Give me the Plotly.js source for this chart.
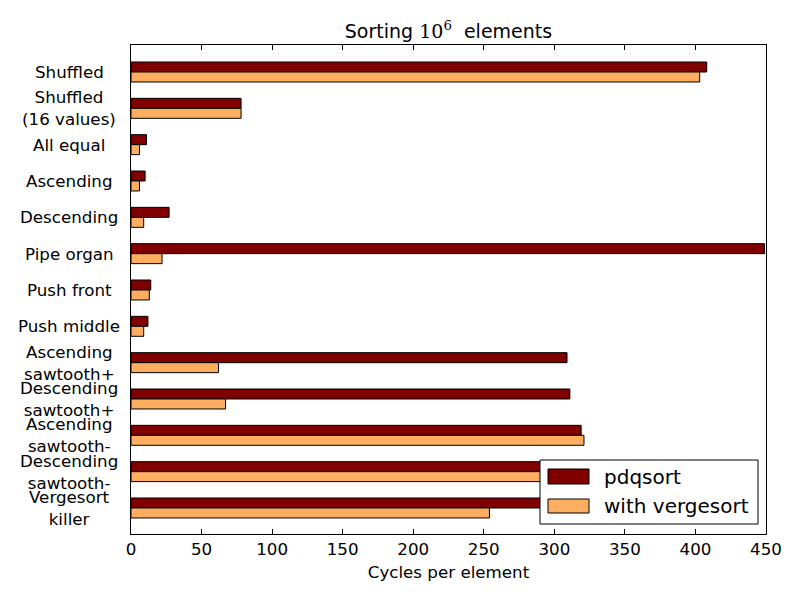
<!DOCTYPE html>
<html>
<head>
<meta charset="utf-8">
<script src="https://cdn.plot.ly/plotly-3.0.1.min.js"></script>
<style>html,body{margin:0;padding:0;background:#fff;}#chart{width:800px;height:597px;}</style>
</head>
<body>
<div id="chart"></div>
<script>
const categories = ["Shuffled", "Shuffled<br>(16 values)", "All equal", "Ascending", "Descending", "Pipe organ", "Push front", "Push middle", "Ascending<br>sawtooth+", "Descending<br>sawtooth+", "Ascending<br>sawtooth-", "Descending<br>sawtooth-", "Vergesort<br>killer"];
const pdqsort = [408, 78, 11, 10, 27, 449, 14, 12, 309, 311, 319, 320, 312];
const vergesort = [403, 78, 6, 6, 9, 22, 13, 9, 62, 67, 321, 322, 254];
const seriesNames = ["pdqsort", "with vergesort"];
const seriesColors = ["#800000", "#fdae61"];
const xTicks = [0, 50, 100, 150, 200, 250, 300, 350, 400, 450];

const idx = categories.map((_, i) => i);
const FONT = "DejaVu Sans, sans-serif";
const barH = 0.275;

const traces = [
  {type: "bar", orientation: "h", name: seriesNames[0], x: pdqsort, y: idx,
   width: barH, offset: -barH, marker: {color: seriesColors[0], line: {color: "#000", width: 1}},
   showlegend: false, hoverinfo: "x"},
  {type: "bar", orientation: "h", name: seriesNames[1], x: vergesort, y: idx,
   width: barH, offset: 0, marker: {color: seriesColors[1], line: {color: "#000", width: 1}},
   showlegend: false, hoverinfo: "x"}
];

const px2x = p => (p - 131) / 635;
const px2y = p => (534 - p) / 489;

const annotations = categories.map((c, i) => ({
  text: c, xref: "paper", x: px2x(69), yref: "y", y: i,
  xanchor: "center", yanchor: "middle", align: "center", showarrow: false,
  font: {family: FONT, size: 16.7, color: "#000"}
}));
annotations.push(
  {text: seriesNames[0], xref: "paper", yref: "paper", x: px2x(602), y: px2y(476.5),
   xanchor: "left", yanchor: "middle", showarrow: false, font: {family: FONT, size: 20, color: "#000"}},
  {text: seriesNames[1], xref: "paper", yref: "paper", x: px2x(602), y: px2y(506),
   xanchor: "left", yanchor: "middle", showarrow: false, font: {family: FONT, size: 20, color: "#000"}}
);

const shapes = [
  {type: "rect", xref: "paper", yref: "paper", x0: px2x(540), x1: px2x(758), y0: px2y(460), y1: px2y(524),
   fillcolor: "#fff", line: {color: "#000", width: 1}, layer: "above"},
  {type: "rect", xref: "paper", yref: "paper", x0: px2x(548), x1: px2x(589), y0: px2y(469), y1: px2y(484),
   fillcolor: seriesColors[0], line: {color: "#000", width: 1}, layer: "above"},
  {type: "rect", xref: "paper", yref: "paper", x0: px2x(548), x1: px2x(589), y0: px2y(499), y1: px2y(513),
   fillcolor: seriesColors[1], line: {color: "#000", width: 1}, layer: "above"}
];

const layout = {
  width: 800, height: 597,
  margin: {l: 131, r: 34, t: 45, b: 63, pad: 0},
  paper_bgcolor: "#fff", plot_bgcolor: "#fff",
  font: {family: FONT, size: 16.7, color: "#000"},
  title: {
    text: 'Sorting <span style="font-family:DejaVu Serif, serif">10<sup>6</sup></span>  elements',
    font: {family: FONT, size: 19, color: "#000"},
    xref: "paper", x: 0.5, xanchor: "center",
    yref: "container", y: 1 - 31 / 597, yanchor: "middle"
  },
  barmode: "overlay",
  xaxis: {
    range: [0, 450], tickvals: xTicks, ticktext: xTicks.map(String),
    ticks: "inside", ticklen: 5, tickcolor: "#000", tickwidth: 1,
    showline: true, linecolor: "#000", linewidth: 1, mirror: "ticks",
    showgrid: false, zeroline: false,
    tickfont: {family: FONT, size: 16.7, color: "#000"},
    title: {text: "Cycles per element", font: {family: FONT, size: 16.7, color: "#000"}, standoff: 8},
    automargin: false, fixedrange: true
  },
  yaxis: {
    range: [12.716, -0.743], tickvals: [], showticklabels: false,
    ticks: "", showline: true, linecolor: "#000", linewidth: 1, mirror: true,
    showgrid: false, zeroline: false, automargin: false, fixedrange: true
  },
  annotations: annotations,
  shapes: shapes,
  showlegend: false
};

Plotly.newPlot("chart", traces, layout, {displayModeBar: false, staticPlot: true});
</script>
</body>
</html>
